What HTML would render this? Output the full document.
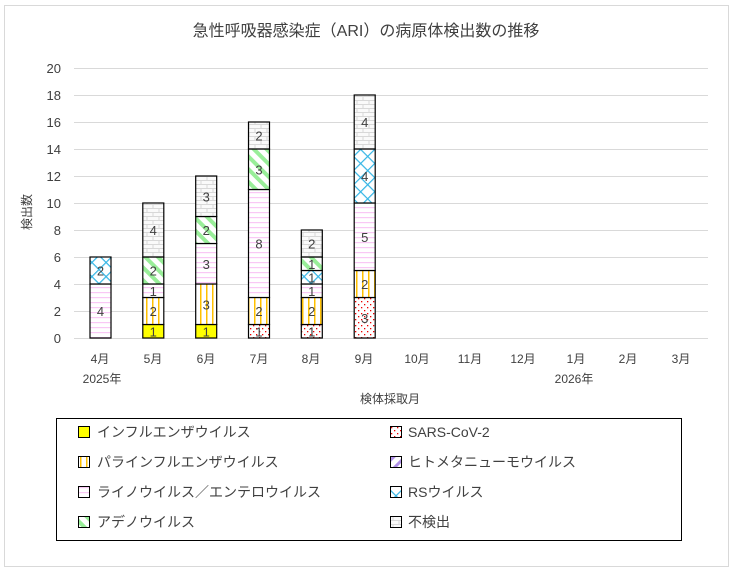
<!DOCTYPE html>
<html><head><meta charset="utf-8"><style>
body{margin:0;background:#fff}
svg text{font-family:"Liberation Sans","Noto Sans CJK JP",sans-serif;fill:#404040}
</style></head><body>
<svg width="733" height="571" xmlns="http://www.w3.org/2000/svg">
<defs>
<pattern id="p_flu" width="4" height="4" patternUnits="userSpaceOnUse"><rect width="4" height="4" fill="#ffff00"/></pattern>
<pattern id="p_sars" width="6" height="6" patternUnits="userSpaceOnUse"><rect width="6" height="6" fill="#fff"/><rect x="1" y="1" width="1.3" height="1.3" fill="#e00"/><rect x="4" y="4" width="1.3" height="1.3" fill="#e00"/></pattern>
<pattern id="p_para" width="6" height="6" patternUnits="userSpaceOnUse"><rect width="6" height="6" fill="#fff"/><rect x="2" width="1.5" height="6" fill="#ffc000"/></pattern>
<pattern id="p_rhino" width="6" height="5" patternUnits="userSpaceOnUse"><rect width="6" height="5" fill="#fff"/><rect y="2" width="6" height="1.2" fill="#f9c8f5"/></pattern>
<pattern id="p_hmpv" width="8" height="8" patternUnits="userSpaceOnUse" patternTransform="rotate(45)"><rect width="8" height="8" fill="#fff"/><rect width="3" height="8" fill="#b090e8"/></pattern>
<pattern id="p_rs" width="10" height="10" patternUnits="userSpaceOnUse" patternTransform="rotate(45)"><rect width="10" height="10" fill="#fff"/><rect width="1.2" height="10" fill="#33b5e5"/><rect width="10" height="1.2" fill="#33b5e5"/></pattern>
<pattern id="p_adeno" width="9" height="9" patternUnits="userSpaceOnUse" patternTransform="rotate(-45)"><rect width="9" height="9" fill="#fff"/><rect width="4" height="9" fill="#99ee99"/></pattern>
<pattern id="p_none" width="12" height="8" patternUnits="userSpaceOnUse"><rect width="12" height="8" fill="#fafafa"/><path d="M0 0.5H12M0 4.5H12M3 0.5V4.5M9 4.5V8" stroke="#d8d8d8" stroke-width="1"/></pattern>
</defs>
<rect x="4.5" y="5.5" width="724" height="561" fill="#fff" stroke="#d9d9d9"/>
<text x="366" y="36" font-size="16" text-anchor="middle">急性呼吸器感染症（ARI）の病原体検出数の推移</text>
<g stroke="#d9d9d9" stroke-width="1">
<line x1="74" x2="708" y1="68.5" y2="68.5"/><line x1="74" x2="708" y1="95.5" y2="95.5"/><line x1="74" x2="708" y1="122.5" y2="122.5"/><line x1="74" x2="708" y1="149.5" y2="149.5"/><line x1="74" x2="708" y1="176.5" y2="176.5"/><line x1="74" x2="708" y1="203.5" y2="203.5"/><line x1="74" x2="708" y1="230.5" y2="230.5"/><line x1="74" x2="708" y1="257.5" y2="257.5"/><line x1="74" x2="708" y1="284.5" y2="284.5"/><line x1="74" x2="708" y1="311.5" y2="311.5"/><line x1="74" x2="708" y1="338.5" y2="338.5"/>
</g>
<g font-size="13" text-anchor="end">
<text x="61" y="73">20</text><text x="61" y="100">18</text><text x="61" y="127">16</text><text x="61" y="154">14</text><text x="61" y="181">12</text><text x="61" y="208">10</text><text x="61" y="235">8</text><text x="61" y="262">6</text><text x="61" y="289">4</text><text x="61" y="316">2</text><text x="61" y="343">0</text>
</g>
<text transform="translate(31,212) rotate(-90)" font-size="12" text-anchor="middle">検出数</text>
<g stroke="#000" stroke-width="1.2">
<rect x="90" y="284" width="21" height="54" fill="url(#p_rhino)"/>
<rect x="90" y="257" width="21" height="27" fill="url(#p_rs)"/>

<rect x="142.8" y="324.5" width="21" height="13.5" fill="url(#p_flu)"/>
<rect x="142.8" y="297.5" width="21" height="27" fill="url(#p_para)"/>
<rect x="142.8" y="284" width="21" height="13.5" fill="url(#p_rhino)"/>
<rect x="142.8" y="257" width="21" height="27" fill="url(#p_adeno)"/>
<rect x="142.8" y="203" width="21" height="54" fill="url(#p_none)"/>

<rect x="195.7" y="324.5" width="21" height="13.5" fill="url(#p_flu)"/>
<rect x="195.7" y="284" width="21" height="40.5" fill="url(#p_para)"/>
<rect x="195.7" y="243.5" width="21" height="40.5" fill="url(#p_rhino)"/>
<rect x="195.7" y="216.5" width="21" height="27" fill="url(#p_adeno)"/>
<rect x="195.7" y="176" width="21" height="40.5" fill="url(#p_none)"/>

<rect x="248.5" y="324.5" width="21" height="13.5" fill="url(#p_sars)"/>
<rect x="248.5" y="297.5" width="21" height="27" fill="url(#p_para)"/>
<rect x="248.5" y="189.5" width="21" height="108" fill="url(#p_rhino)"/>
<rect x="248.5" y="149" width="21" height="40.5" fill="url(#p_adeno)"/>
<rect x="248.5" y="122" width="21" height="27" fill="url(#p_none)"/>

<rect x="301.3" y="324.5" width="21" height="13.5" fill="url(#p_sars)"/>
<rect x="301.3" y="297.5" width="21" height="27" fill="url(#p_para)"/>
<rect x="301.3" y="284" width="21" height="13.5" fill="url(#p_rhino)"/>
<rect x="301.3" y="270.5" width="21" height="13.5" fill="url(#p_rs)"/>
<rect x="301.3" y="257" width="21" height="13.5" fill="url(#p_adeno)"/>
<rect x="301.3" y="230" width="21" height="27" fill="url(#p_none)"/>

<rect x="354.2" y="297.5" width="21" height="40.5" fill="url(#p_sars)"/>
<rect x="354.2" y="270.5" width="21" height="27" fill="url(#p_para)"/>
<rect x="354.2" y="203" width="21" height="67.5" fill="url(#p_rhino)"/>
<rect x="354.2" y="149" width="21" height="54" fill="url(#p_rs)"/>
<rect x="354.2" y="95" width="21" height="54" fill="url(#p_none)"/>
</g>
<g font-size="13" text-anchor="middle">
<text x="100.5" y="316">4</text><text x="100.5" y="275.5">2</text>
<text x="153.3" y="336.3">1</text><text x="153.3" y="316">2</text><text x="153.3" y="295.8">1</text><text x="153.3" y="275.5">2</text><text x="153.3" y="235">4</text>
<text x="206.2" y="336.3">1</text><text x="206.2" y="309.3">3</text><text x="206.2" y="268.8">3</text><text x="206.2" y="235">2</text><text x="206.2" y="201.3">3</text>
<text x="259" y="336.3">1</text><text x="259" y="316">2</text><text x="259" y="248.5">8</text><text x="259" y="174.3">3</text><text x="259" y="140.5">2</text>
<text x="311.8" y="336.3">1</text><text x="311.8" y="316">2</text><text x="311.8" y="295.8">1</text><text x="311.8" y="282.3">1</text><text x="311.8" y="268.8">1</text><text x="311.8" y="248.5">2</text>
<text x="364.7" y="322.8">3</text><text x="364.7" y="289">2</text><text x="364.7" y="241.8">5</text><text x="364.7" y="181">4</text><text x="364.7" y="127">4</text>
</g>
<g font-size="12" text-anchor="middle">
<text x="100" y="363">4月</text><text x="153" y="363">5月</text><text x="206" y="363">6月</text><text x="259" y="363">7月</text><text x="311" y="363">8月</text><text x="364" y="363">9月</text><text x="417" y="363">10月</text><text x="470" y="363">11月</text><text x="523" y="363">12月</text><text x="576" y="363">1月</text><text x="628" y="363">2月</text><text x="681" y="363">3月</text>
<text x="102" y="383">2025年</text><text x="574" y="383">2026年</text>
<text x="390" y="403">検体採取月</text>
</g>
<rect x="56.5" y="418.5" width="625" height="122" fill="#fff" stroke="#000"/>
<g font-size="14">
<rect x="78.5" y="426.5" width="11" height="11" fill="url(#p_flu)" stroke="#000"/><text x="97" y="437">インフルエンザウイルス</text>
<rect x="78.5" y="456.5" width="11" height="11" fill="url(#p_para)" stroke="#000"/><text x="97" y="467">パラインフルエンザウイルス</text>
<rect x="78.5" y="486.5" width="11" height="11" fill="url(#p_rhino)" stroke="#000"/><text x="97" y="497">ライノウイルス／エンテロウイルス</text>
<rect x="78.5" y="516.5" width="11" height="11" fill="url(#p_adeno)" stroke="#000"/><text x="97" y="527">アデノウイルス</text>
<rect x="390.5" y="426.5" width="11" height="11" fill="url(#p_sars)" stroke="#000"/><text x="408" y="437">SARS-CoV-2</text>
<rect x="390.5" y="456.5" width="11" height="11" fill="url(#p_hmpv)" stroke="#000"/><text x="408" y="467">ヒトメタニューモウイルス</text>
<rect x="390.5" y="486.5" width="11" height="11" fill="url(#p_rs)" stroke="#000"/><text x="408" y="497">RSウイルス</text>
<rect x="390.5" y="516.5" width="11" height="11" fill="url(#p_none)" stroke="#000"/><text x="408" y="527">不検出</text>
</g>
</svg>
</body></html>
